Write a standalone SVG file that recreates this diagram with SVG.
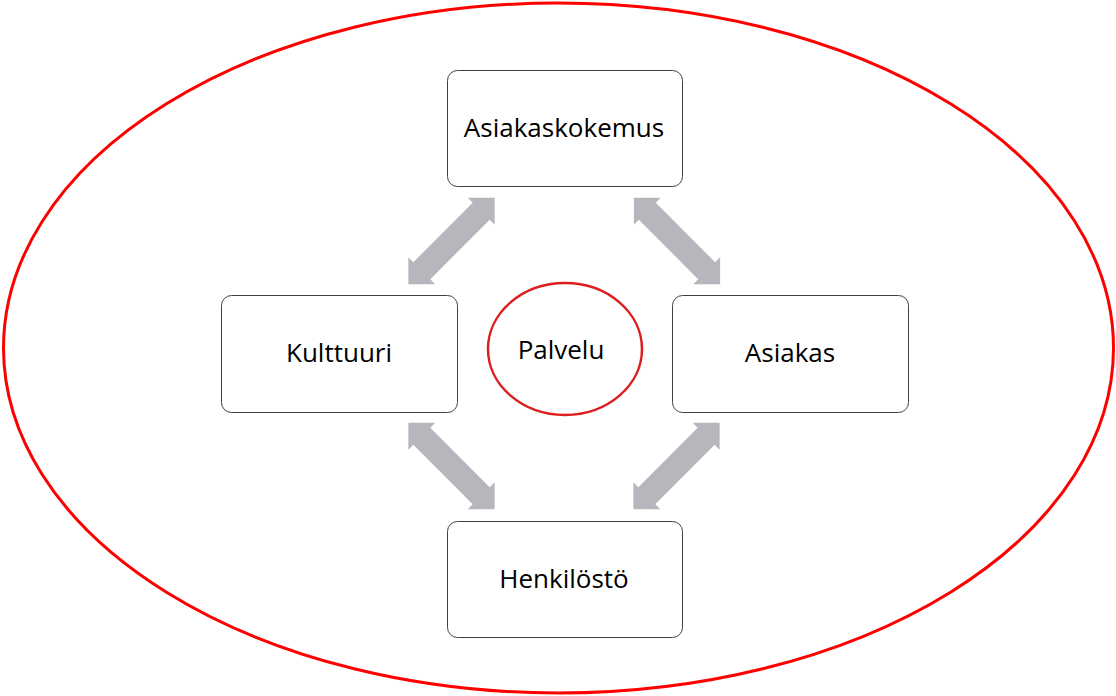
<svg xmlns="http://www.w3.org/2000/svg" width="1116" height="696" viewBox="0 0 1116 696">
<style>
.box{fill:#ffffff;stroke:#404040;stroke-width:1}
.lbl{font-family:"Open Sans","Noto Sans",sans-serif;font-size:26px;fill:#000000;text-anchor:middle}
.arr{fill:#b5b7bc}
</style>
<defs>
<path id="darrow" d="M61,0 L42,19 L42,12 L-42,12 L-42,19 L-61,0 L-42,-19 L-42,-12 L42,-12 L42,-19 Z"/>
</defs>
<rect width="1116" height="696" fill="#ffffff"/>
<g id="outer">
<ellipse cx="558.5" cy="348" rx="555" ry="345" fill="none" stroke="#ff0000" stroke-width="3"/>
</g>
<g id="connectors">
<use href="#darrow" class="arr" transform="translate(451.5,241) rotate(-45)"/>
<use href="#darrow" class="arr" transform="translate(677,241) rotate(45)"/>
<use href="#darrow" class="arr" transform="translate(451.5,466) rotate(45)"/>
<use href="#darrow" class="arr" transform="translate(676.5,466) rotate(-45)"/>
</g>
<g id="asiakaskokemus">
<rect class="box" x="447.5" y="70.5" width="235" height="116" rx="10"/>
<text class="lbl" x="564" y="137">Asiakaskokemus</text>
</g>
<g id="kulttuuri">
<rect class="box" x="221.5" y="295.5" width="236" height="117" rx="10"/>
<text class="lbl" x="339" y="362">Kulttuuri</text>
</g>
<g id="asiakas">
<rect class="box" x="672.5" y="295.5" width="236" height="117" rx="10"/>
<text class="lbl" x="790" y="362">Asiakas</text>
</g>
<g id="henkilosto">
<rect class="box" x="447.5" y="521.5" width="235" height="116" rx="10"/>
<text class="lbl" x="564" y="588">Henkilöstö</text>
</g>
<g id="palvelu">
<ellipse cx="565" cy="349" rx="77" ry="66" fill="#ffffff" stroke="#dc1e1e" stroke-width="2.5"/>
<text class="lbl" x="561" y="359">Palvelu</text>
</g>
</svg>
